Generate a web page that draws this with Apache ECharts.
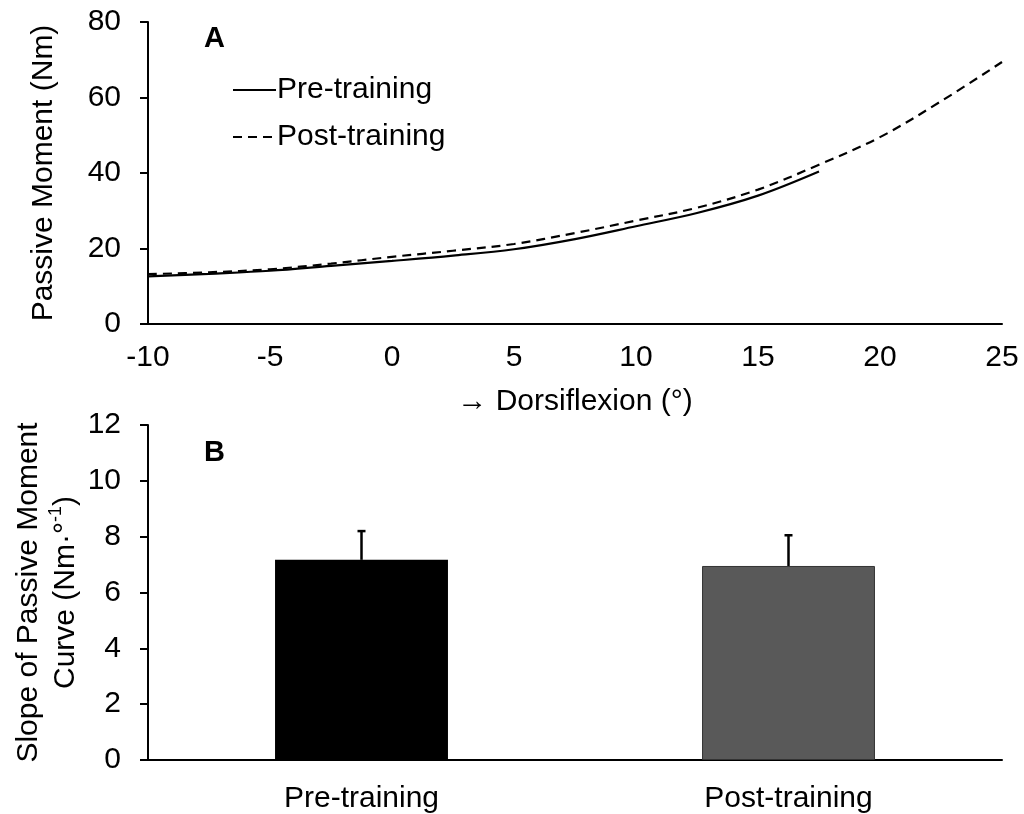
<!DOCTYPE html>
<html>
<head>
<meta charset="utf-8">
<script src="https://cdn.jsdelivr.net/npm/echarts@6/dist/echarts.min.js"></script>
<style>html,body{margin:0;padding:0;background:#fff;}#c{width:1024px;height:814px;}</style>
</head>
<body>
<div id="c"></div>
<script>
// Panel A data
const angles = [-10, -7.5, -5, -2.5, 0, 2.5, 5, 7.5, 10, 12.5, 15, 17.5, 20, 22.5, 25];
const preMoment = [12.6, 13.3, 14.1, 15.4, 16.7, 18.1, 19.8, 22.5, 25.9, 29.4, 34.0, 40.4];
const postMoment = [13.2, 13.7, 14.5, 16.0, 17.8, 19.4, 21.2, 24.1, 27.4, 30.8, 35.6, 42.2, 49.5, 59.0, 69.4];
// Panel B data
const groups = ['Pre-training', 'Post-training'];
const slopeMean = [7.17, 6.95];
const slopeSD = [1.03, 1.10];

const FONT = 'Liberation Sans, Arial, sans-serif';
const FS = 30;

const chart = echarts.init(document.getElementById('c'));
const pairs = (xs, ys) => ys.map((y, i) => [xs[i], y]);

const axisLine = { show: true, onZero: false, lineStyle: { color: '#000', width: 2 } };
const lbl = { color: '#000', fontFamily: FONT, fontSize: FS };

chart.setOption({
  animation: false,
  backgroundColor: '#fff',
  textStyle: { fontFamily: FONT },
  grid: [
    { left: 148, right: 22, top: 22, height: 302, outerBoundsMode: 'none', containLabel: false },
    { left: 148, right: 22, top: 425, height: 335, outerBoundsMode: 'none', containLabel: false }
  ],
  legend: {
    data: ['Pre-training', 'Post-training'],
    orient: 'vertical',
    left: 232, top: 75, padding: 0,
    itemWidth: 43, itemHeight: 4, itemGap: 17,
    itemStyle: { color: 'transparent', borderWidth: 0, opacity: 0 },
    textStyle: { color: '#000', fontFamily: FONT, fontSize: FS, padding: [0, 0, 0, -4] }
  },
  graphic: [
    { type: 'text', left: 204, top: 24, style: { text: 'A', font: 'bold 29px ' + FONT, fill: '#000' } },
    { type: 'text', left: 204, top: 438, style: { text: 'B', font: 'bold 29px ' + FONT, fill: '#000' } }
  ],
  xAxis: [
    {
      gridIndex: 0, type: 'value', min: -10, max: 25, interval: 5,
      axisLine: axisLine, axisTick: { show: false }, splitLine: { show: false },
      axisLabel: Object.assign({ margin: 19 }, lbl),
      name: '\u2192 Dorsiflexion (\u00B0)', nameLocation: 'middle', nameGap: 63,
      nameTextStyle: lbl
    },
    {
      gridIndex: 1, type: 'category', data: groups,
      axisLine: axisLine, axisTick: { show: false }, splitLine: { show: false },
      axisLabel: Object.assign({ margin: 24 }, lbl)
    }
  ],
  yAxis: [
    {
      gridIndex: 0, type: 'value', min: 0, max: 80, interval: 20,
      axisLine: axisLine, axisTick: { show: true, length: 8, lineStyle: { color: '#000', width: 2 } },
      splitLine: { show: false },
      axisLabel: Object.assign({ margin: 27 }, lbl),
      name: 'Passive Moment (Nm)', nameLocation: 'middle', nameGap: 89, nameRotate: 90,
      nameTextStyle: lbl
    },
    {
      gridIndex: 1, type: 'value', min: 0, max: 12, interval: 2,
      axisLine: axisLine, axisTick: { show: true, length: 8, lineStyle: { color: '#000', width: 2 } },
      splitLine: { show: false },
      axisLabel: Object.assign({ margin: 27 }, lbl),
      name: 'Slope of Passive Moment\nCurve (Nm\u00B7\u00B0{sup|-1})', nameLocation: 'middle', nameGap: 64, nameRotate: 90,
      nameMoveOverlap: false,
      nameTextStyle: Object.assign({ lineHeight: 37, align: 'center', rich: { sup: { fontSize: 18, fontFamily: FONT, color: '#000', verticalAlign: 'top', lineHeight: 37, padding: [0, 0, 14, 0] } } }, lbl)
    }
  ],
  series: [
    {
      name: 'Pre-training', type: 'line', xAxisIndex: 0, yAxisIndex: 0,
      data: pairs(angles, preMoment), smooth: 0.35, symbol: 'none',
      lineStyle: { color: '#000', width: 2.2, type: 'solid' }, itemStyle: { color: '#000' }
    },
    {
      name: 'Post-training', type: 'line', xAxisIndex: 0, yAxisIndex: 0,
      data: pairs(angles, postMoment), smooth: 0.35, symbol: 'none',
      lineStyle: { color: '#000', width: 2.2, type: [9, 6] }, itemStyle: { color: '#000' }
    },
    {
      type: 'bar', xAxisIndex: 1, yAxisIndex: 1, barWidth: '40.5%',
      data: slopeMean.map((v, i) => ({
        value: v,
        itemStyle: i === 0 ? { color: '#000' } : { color: '#595959', borderColor: '#333', borderWidth: 1 }
      }))
    },
    {
      type: 'custom', xAxisIndex: 1, yAxisIndex: 1, z: 10,
      data: slopeMean.map((v, i) => [i, v, v + slopeSD[i]]),
      renderItem: function (params, api) {
        const base = api.coord([api.value(0), api.value(1)]);
        const top = api.coord([api.value(0), api.value(2)]);
        const x = base[0];
        return {
          type: 'group',
          children: [
            { type: 'line', shape: { x1: x, y1: base[1], x2: x, y2: top[1] }, style: { stroke: '#000', lineWidth: 2.5 } },
            { type: 'line', shape: { x1: x - 4, y1: top[1], x2: x + 4, y2: top[1] }, style: { stroke: '#000', lineWidth: 2.5 } }
          ]
        };
      }
    }
  ]
});
</script>
</body>
</html>
